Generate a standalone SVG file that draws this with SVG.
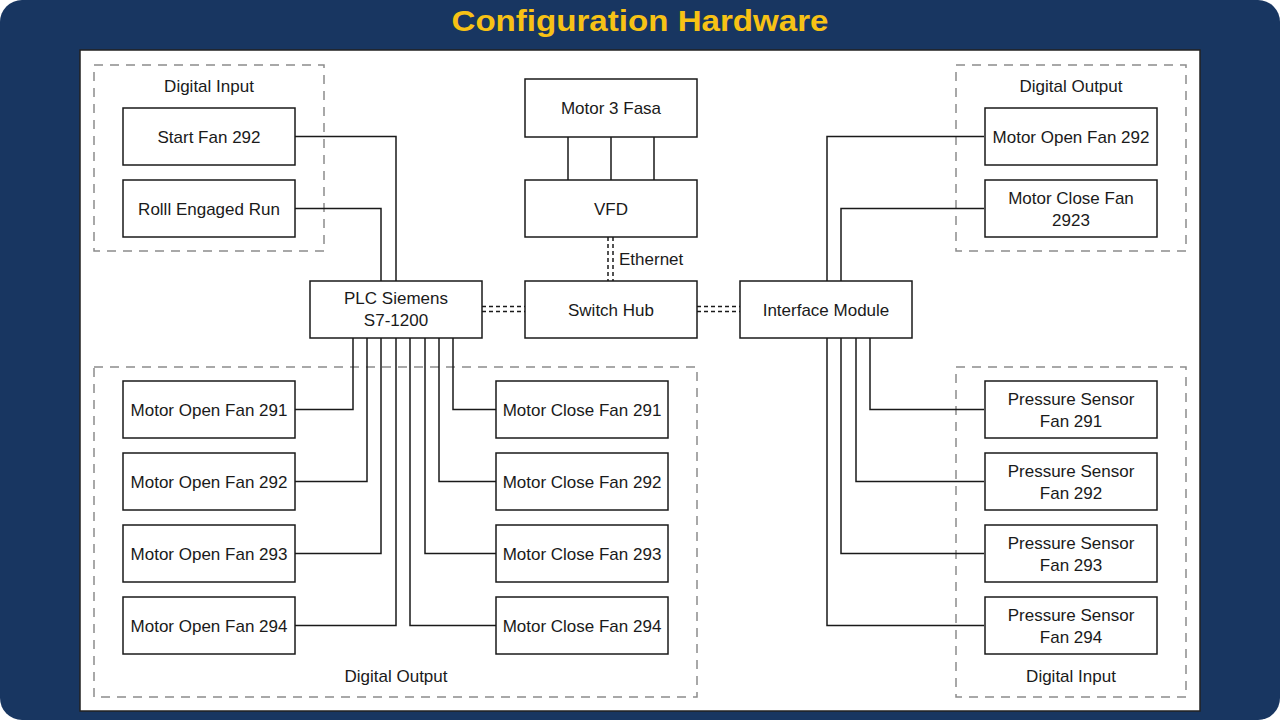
<svg xmlns="http://www.w3.org/2000/svg" width="1280" height="720" viewBox="0 0 1280 720">
<defs>
<style>
.bg{fill:#183661}
.panel{fill:#ffffff;stroke:#222222;stroke-width:1.5}
.grp{fill:none;stroke:#8c8c8c;stroke-width:1.5;stroke-dasharray:9 7}
.box{fill:#ffffff;stroke:#1a1a1a;stroke-width:1.5}
.t{font-family:"Liberation Sans",Arial,sans-serif;font-size:17px;fill:#1a1a1a;text-anchor:middle}
.gl{font-family:"Liberation Sans",Arial,sans-serif;font-size:17px;fill:#1a1a1a;text-anchor:middle}
.title{font-family:"Liberation Sans",Arial,sans-serif;font-size:30px;font-weight:bold;fill:#f7c215;text-anchor:middle}
.w{fill:none;stroke:#1a1a1a;stroke-width:1.5}
.eth{fill:none;stroke:#1a1a1a;stroke-width:1.5;stroke-dasharray:4 3}
</style>
</defs>
<rect class="bg" x="0" y="0" width="1280" height="720" rx="22" ry="22"/>
<text class="title" x="640" y="30.5" textLength="377" lengthAdjust="spacingAndGlyphs">Configuration Hardware</text>
<rect class="panel" x="80" y="50" width="1120" height="661"/>

<g id="groups">
<rect class="grp" x="94" y="65" width="230" height="186"/>
<text class="gl" x="209" y="91.5">Digital Input</text>
<rect class="grp" x="94" y="367" width="603" height="330"/>
<text class="gl" x="396" y="681.5">Digital Output</text>
<rect class="grp" x="956" y="65" width="230" height="186"/>
<text class="gl" x="1071" y="91.5">Digital Output</text>
<rect class="grp" x="956" y="367" width="230" height="330"/>
<text class="gl" x="1071" y="681.5">Digital Input</text>
</g>

<g id="connectors">
<path class="w" d="M295,136.5 H396 V281"/>
<path class="w" d="M295,208.5 H381 V281"/>
<path class="w" d="M353,338 V409.5 H295"/>
<path class="w" d="M367,338 V481.5 H295"/>
<path class="w" d="M381,338 V553.5 H295"/>
<path class="w" d="M396,338 V625.5 H295"/>
<path class="w" d="M410,338 V625.5 H496"/>
<path class="w" d="M425,338 V553.5 H496"/>
<path class="w" d="M439,338 V481.5 H496"/>
<path class="w" d="M453,338 V409.5 H496"/>
<path class="w" d="M568,137 V180 M611,137 V180 M654,137 V180"/>
<path class="w" d="M827,281 V136.5 H984"/>
<path class="w" d="M841,281 V208.5 H984"/>
<path class="w" d="M870,338 V409.5 H984"/>
<path class="w" d="M856,338 V481.5 H984"/>
<path class="w" d="M841,338 V553.5 H984"/>
<path class="w" d="M827,338 V625.5 H984"/>
<path class="eth" d="M608,237 V281 M613,237 V281"/>
<path class="eth" d="M482,306.5 H525 M482,311.5 H525"/>
<path class="eth" d="M697,306.5 H740 M697,311.5 H740"/>
<text class="t" x="619" y="265" style="text-anchor:start">Ethernet</text>
</g>

<g id="start-fan-292"><rect class="box" x="123" y="108" width="172" height="57"/><text class="t" x="209" y="142.5">Start Fan 292</text></g>
<g id="rolll-engaged-run"><rect class="box" x="123" y="180" width="172" height="57"/><text class="t" x="209" y="214.5">Rolll Engaged Run</text></g>
<g id="motor-3-fasa"><rect class="box" x="525" y="79" width="172" height="58"/><text class="t" x="611" y="113.5">Motor 3 Fasa</text></g>
<g id="vfd"><rect class="box" x="525" y="180" width="172" height="57"/><text class="t" x="611" y="214.5">VFD</text></g>
<g id="plc"><rect class="box" x="310" y="281" width="172" height="57"/><text class="t" x="396" y="304">PLC Siemens</text><text class="t" x="396" y="325.5">S7-1200</text></g>
<g id="switch-hub"><rect class="box" x="525" y="281" width="172" height="57"/><text class="t" x="611" y="315.5">Switch Hub</text></g>
<g id="interface-module"><rect class="box" x="740" y="281" width="172" height="57"/><text class="t" x="826" y="315.5">Interface Module</text></g>

<g id="do-motor-open-fan-292"><rect class="box" x="985" y="108" width="172" height="57"/><text class="t" x="1071" y="142.5">Motor Open Fan 292</text></g>
<g id="do-motor-close-fan-2923"><rect class="box" x="985" y="180" width="172" height="57"/><text class="t" x="1071" y="204">Motor Close Fan</text><text class="t" x="1071" y="225.5">2923</text></g>

<g id="motor-open-fan-291"><rect class="box" x="123" y="381" width="172" height="57"/><text class="t" x="209" y="415.5">Motor Open Fan 291</text></g>
<g id="motor-open-fan-292"><rect class="box" x="123" y="453" width="172" height="57"/><text class="t" x="209" y="487.5">Motor Open Fan 292</text></g>
<g id="motor-open-fan-293"><rect class="box" x="123" y="525" width="172" height="57"/><text class="t" x="209" y="559.5">Motor Open Fan 293</text></g>
<g id="motor-open-fan-294"><rect class="box" x="123" y="597" width="172" height="57"/><text class="t" x="209" y="631.5">Motor Open Fan 294</text></g>

<g id="motor-close-fan-291"><rect class="box" x="496" y="381" width="172" height="57"/><text class="t" x="582" y="415.5">Motor Close Fan 291</text></g>
<g id="motor-close-fan-292"><rect class="box" x="496" y="453" width="172" height="57"/><text class="t" x="582" y="487.5">Motor Close Fan 292</text></g>
<g id="motor-close-fan-293"><rect class="box" x="496" y="525" width="172" height="57"/><text class="t" x="582" y="559.5">Motor Close Fan 293</text></g>
<g id="motor-close-fan-294"><rect class="box" x="496" y="597" width="172" height="57"/><text class="t" x="582" y="631.5">Motor Close Fan 294</text></g>

<g id="pressure-sensor-fan-291"><rect class="box" x="985" y="381" width="172" height="57"/><text class="t" x="1071" y="405">Pressure Sensor</text><text class="t" x="1071" y="426.5">Fan 291</text></g>
<g id="pressure-sensor-fan-292"><rect class="box" x="985" y="453" width="172" height="57"/><text class="t" x="1071" y="477">Pressure Sensor</text><text class="t" x="1071" y="498.5">Fan 292</text></g>
<g id="pressure-sensor-fan-293"><rect class="box" x="985" y="525" width="172" height="57"/><text class="t" x="1071" y="549">Pressure Sensor</text><text class="t" x="1071" y="570.5">Fan 293</text></g>
<g id="pressure-sensor-fan-294"><rect class="box" x="985" y="597" width="172" height="57"/><text class="t" x="1071" y="621">Pressure Sensor</text><text class="t" x="1071" y="642.5">Fan 294</text></g>
</svg>
